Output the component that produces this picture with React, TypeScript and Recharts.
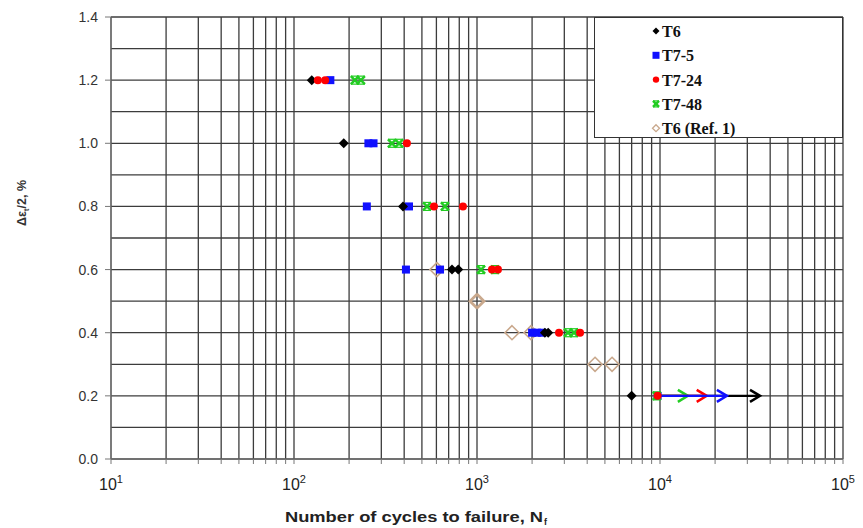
import { ComposedChart, Scatter, XAxis, YAxis, CartesianGrid, Label } from 'recharts';

// strain amplitude grid and tick labels
const ampGrid = [0, 0.1, 0.2, 0.3, 0.4, 0.5, 0.6, 0.7, 0.8, 0.9, 1.0, 1.1, 1.2, 1.3, 1.4];
const ampLabels = ['0.0', '0.2', '0.4', '0.6', '0.8', '1.0', '1.2', '1.4'];
const decades = [10, 100, 1000, 10000];
const decadeExponents = ['1', '2', '3', '4', '5'];

// measured lives
const t6Cycles = [125, 187, 394, 730, 790, 2350, 2450, 7000];
const t6Amp = [1.2, 1.0, 0.8, 0.6, 0.6, 0.4, 0.4, 0.2];

const t75Cycles = [158, 255, 272, 250, 425, 409, 628, 2000, 2130, 2270, 9700];
const t75Amp = [1.2, 1.0, 1.0, 0.8, 0.8, 0.6, 0.6, 0.4, 0.4, 0.4, 0.2];

const t724Cycles = [135, 148, 414, 582, 838, 1207, 1302, 2806, 3657, 9700];
const t724Amp = [1.2, 1.2, 1.0, 0.8, 0.8, 0.6, 0.6, 0.4, 0.4, 0.2];

const t748Cycles = [215, 232, 343, 375, 533, 668, 1052, 1254, 3142, 3388, 9600];
const t748Amp = [1.2, 1.2, 1.0, 1.0, 0.8, 0.8, 0.6, 0.6, 0.4, 0.4, 0.2];

const refCycles = [604, 990, 1010, 1553, 1973, 4416, 5470];
const refAmp = [0.6, 0.5, 0.5, 0.4, 0.4, 0.3, 0.3];

// run-outs (arrows) at 0.2 %
const runoutNames = ['T6', 'T7-48', 'T7-24', 'T7-5'];
const runoutFrom = [9700, 9700, 9700, 9700];
const runoutTo = [35200, 14200, 18000, 23200];
const runoutAmp = 0.2;

const BLACK = '#000000';
const BLUE = '#1010ff';
const RED = '#ff0000';
const GREEN = '#22cc22';
const TAN = '#c9a88c';

const colorOf: Record<string, string> = { T6: BLACK, 'T7-5': BLUE, 'T7-24': RED, 'T7-48': GREEN };

const zip = (n: number[], a: number[]) => n.map((v, i) => ({ n: v, amp: a[i] }));

const cycleGrid = decades.flatMap((d) => [1, 2, 3, 4, 5, 6, 7, 8, 9].map((k) => k * d)).concat([100000]);

function Diamond({ cx, cy, r = 5, fill = BLACK, stroke = 'none', sw = 0 }: any) {
  return (
    <path
      d={`M${cx},${cy - r}L${cx + r},${cy}L${cx},${cy + r}L${cx - r},${cy}Z`}
      fill={fill}
      stroke={stroke}
      strokeWidth={sw}
    />
  );
}

function Square({ cx, cy, s = 8 }: any) {
  return <rect x={cx - s / 2} y={cy - s / 2} width={s} height={s} fill={BLUE} />;
}

function Dot({ cx, cy, r = 4 }: any) {
  return <circle cx={cx} cy={cy} r={r} fill={RED} />;
}

function Cross({ cx, cy, s = 4 }: any) {
  return (
    <g stroke={GREEN} strokeWidth={2.5}>
      <line x1={cx - s} y1={cy - s} x2={cx + s} y2={cy + s} />
      <line x1={cx - s} y1={cy + s} x2={cx + s} y2={cy - s} />
      <line x1={cx - s} y1={cy - s} x2={cx + s} y2={cy - s} strokeWidth={1.2} />
      <line x1={cx - s} y1={cy + s} x2={cx + s} y2={cy + s} strokeWidth={1.2} />
    </g>
  );
}

function XTick({ x, y, payload }: any) {
  const e = Math.log10(payload.value);
  if (Math.abs(e - Math.round(e)) > 1e-6) return <g />;
  return (
    <text x={x} y={y + 24} textAnchor="middle" fontFamily="Liberation Sans, Arial" fontSize={16} fill="#222">
      10
      <tspan dy={-7} fontSize={11}>
        {decadeExponents[Math.round(e) - 1]}
      </tspan>
    </text>
  );
}

function YTick({ x, y, payload }: any) {
  const idx = Math.round(payload.value * 10);
  if (idx % 2 !== 0) return <g />;
  return (
    <g>
      <line x1={x + 7} y1={y} x2={x + 13} y2={y} stroke="#777" />
      <text x={x} y={y + 5} textAnchor="end" fontFamily="Liberation Sans, Arial" fontSize={14} fill="#333">
        {ampLabels[idx / 2]}
      </text>
    </g>
  );
}

const legendItems = [
  { name: 'T6', icon: <Diamond cx={0} cy={0} r={3.5} /> },
  { name: 'T7-5', icon: <Square cx={0} cy={0} s={7} /> },
  { name: 'T7-24', icon: <Dot cx={0} cy={0} r={3.2} /> },
  { name: 'T7-48', icon: <Cross cx={0} cy={0} s={3} /> },
  { name: 'T6 (Ref. 1)', icon: <Diamond cx={0} cy={0} r={3.5} fill="#fff" stroke={TAN} sw={1.3} /> },
];

export default function App() {
  return (
    <div style={{ position: 'absolute', left: 0, top: 0, width: 863, height: 528, background: '#fff' }}>
      <ComposedChart width={863} height={528} margin={{ top: 17, right: 20, bottom: 0, left: 0 }}>
        <CartesianGrid stroke="#3c3c3c" strokeWidth={1.3} />
        <XAxis
          dataKey="n"
          type="number"
          scale="log"
          domain={[10, 100000]}
          ticks={cycleGrid}
          interval={0}
          height={69}
          tickSize={5}
          tickMargin={2}
          stroke="#777"
          tick={<XTick />}
        >
          <Label
            content={() => (
              <g fontFamily="Liberation Sans, Arial" fontWeight="bold" fill="#222">
                <text x={285} y={522} fontSize={14.5} textLength={258} lengthAdjust="spacingAndGlyphs">
                  Number of cycles to failure, N
                </text>
                <text x={544} y={525} fontSize={9}>
                  f
                </text>
              </g>
            )}
          />
        </XAxis>
        <YAxis
          dataKey="amp"
          type="number"
          domain={[0, 1.4]}
          ticks={ampGrid}
          interval={0}
          width={111}
          tickLine={false}
          tickSize={0}
          tickMargin={13}
          stroke="#777"
          tick={<YTick />}
        >
          <Label
            content={() => (
              <text
                transform="translate(26,203) rotate(-90)"
                textAnchor="middle"
                fontFamily="Liberation Sans, Arial"
                fontWeight="bold"
                fontSize={12.5}
                fill="#333"
              >
                Δε
                <tspan dy={3} fontSize={8}>
                  t
                </tspan>
                <tspan dy={-3}>/2, %</tspan>
              </text>
            )}
          />
        </YAxis>

        <Scatter
          name="T6 (Ref. 1)"
          data={zip(refCycles, refAmp)}
          isAnimationActive={false}
          shape={(p: any) => <Diamond cx={p.cx} cy={p.cy} r={7} fill="none" stroke={TAN} sw={1.6} />}
        />

        {runoutNames.map((name, i) => (
          <Scatter
            key={name}
            name={`${name} run-out`}
            data={[
              { n: runoutFrom[i], amp: runoutAmp, tip: false },
              { n: runoutTo[i], amp: runoutAmp, tip: true },
            ]}
            isAnimationActive={false}
            line={{ stroke: colorOf[name], strokeWidth: 2.2 }}
            lineType="joint"
            shape={(p: any) =>
              p.payload && p.payload.tip ? (
                <path
                  d={`M${p.cx - 10},${p.cy - 6}L${p.cx},${p.cy}L${p.cx - 10},${p.cy + 6}`}
                  fill="none"
                  stroke={colorOf[name]}
                  strokeWidth={2.5}
                />
              ) : (
                <g />
              )
            }
          />
        ))}

        <Scatter
          name="T7-5"
          data={zip(t75Cycles, t75Amp)}
          isAnimationActive={false}
          shape={(p: any) => <Square cx={p.cx} cy={p.cy} />}
        />
        <Scatter
          name="T6"
          data={zip(t6Cycles, t6Amp)}
          isAnimationActive={false}
          shape={(p: any) => <Diamond cx={p.cx} cy={p.cy} r={5} />}
        />
        <Scatter
          name="T7-48"
          data={zip(t748Cycles, t748Amp)}
          isAnimationActive={false}
          shape={(p: any) => <Cross cx={p.cx} cy={p.cy} />}
        />
        <Scatter
          name="T7-24"
          data={zip(t724Cycles, t724Amp)}
          isAnimationActive={false}
          shape={(p: any) => <Dot cx={p.cx} cy={p.cy} />}
        />
      </ComposedChart>

      <div
        style={{
          position: 'absolute',
          left: 594,
          top: 17,
          width: 247,
          height: 119,
          background: '#fff',
          border: '1px solid #333',
        }}
      >
        <svg width={247} height={119}>
          {legendItems.map((it, i) => (
            <g key={it.name} transform={`translate(0,${13 + i * 24.3})`}>
              <g transform="translate(61,0)">{it.icon}</g>
              <text
                x={67}
                y={6}
                fontFamily="Liberation Serif, Times New Roman"
                fontWeight="bold"
                fontSize={16}
                fill="#111"
              >
                {it.name}
              </text>
            </g>
          ))}
        </svg>
      </div>
    </div>
  );
}
